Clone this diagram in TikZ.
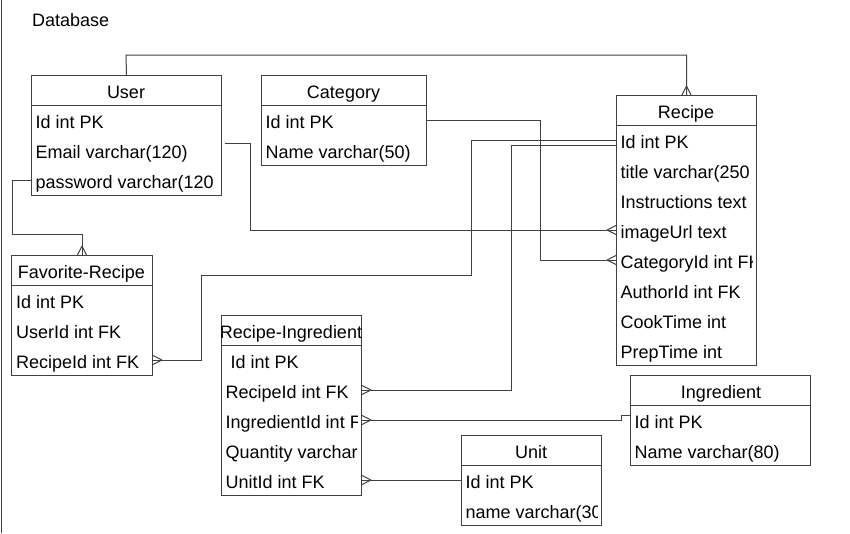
\documentclass[tikz,border=0pt]{standalone}
\usepackage{fontspec}
\setmainfont{Liberation Sans}
\usetikzlibrary{calc,decorations.markings}

\begin{document}
\begin{tikzpicture}[x=1pt,y=-1pt,
    font=\fontsize{18}{21}\selectfont,
    line/.style={draw=black!75,line width=1pt},
    tbl/.style={line,rectangle,anchor=north west,inner sep=0pt},
    hdr/.style={inner sep=0pt,text height=18pt,text depth=2pt},
    row/.style={anchor=west,inner sep=0pt,text height=18pt,text depth=2pt},
    many end/.style={postaction={decorate,decoration={markings,
        mark=at position 1 with {\draw[line] (-9pt,0pt) -- (0pt,4.5pt) (-9pt,0pt) -- (0pt,-4.5pt);}}}}]
\useasboundingbox (0,0) rectangle (850,533);
\draw[line] (1,0) -- (1,533);
\node[row] (db) at (32,18) {Database};

% tables
\node[tbl,minimum width=190pt,minimum height=120pt] (user) at (31,75) {};
\node[tbl,minimum width=165pt,minimum height=90pt] (category) at (261,75) {};
\node[tbl,minimum width=140pt,minimum height=270pt] (recipe) at (616,95) {};
\node[tbl,minimum width=141pt,minimum height=120pt] (fav) at (11,255) {};
\node[tbl,minimum width=140pt,minimum height=180pt] (ringr) at (221,315) {};
\node[tbl,minimum width=180pt,minimum height=90pt] (ingr) at (630,375) {};
\node[tbl,minimum width=140pt,minimum height=90pt] (unit) at (461,435) {};
\foreach \t in {user,category,recipe,fav,ringr,ingr,unit}
    \draw[line] ([yshift=-30pt]\t.north west) -- ([yshift=-30pt]\t.north east);

\node[hdr] (user-h) at (126,90) {User};
\node[hdr] (category-h) at (343.5,90) {Category};
\node[hdr] (recipe-h) at (686,110) {Recipe};
\node[hdr] (fav-h) at (81.5,270) {Favorite-Recipe};
\node[hdr] (ringr-h) at (291,330) {Recipe-Ingredient};
\node[hdr] (ingr-h) at (721,390) {Ingredient};
\node[hdr] (unit-h) at (531,450) {Unit};

% rows
\begin{scope}
    \clip (user.north west) rectangle ([xshift=-4.5pt]user.south east);
    \node[row] (user-id) at (35.5,120) {Id int PK};
    \node[row] (user-email) at (35.5,150) {Email varchar(120)};
    \node[row] (user-pw) at (35.5,180) {password varchar(120};
\end{scope}
\begin{scope}
    \clip (category.north west) rectangle ([xshift=-4.5pt]category.south east);
    \node[row] (category-id) at (265.5,120) {Id int PK};
    \node[row] (category-name) at (265.5,150) {Name varchar(50)};
\end{scope}
\begin{scope}
    \clip (recipe.north west) rectangle ([xshift=-4.5pt]recipe.south east);
    \node[row] (recipe-id) at (620.5,140) {Id int PK};
    \node[row] (recipe-title) at (620.5,170) {title varchar(250};
    \node[row] (recipe-instr) at (620.5,200) {Instructions text};
    \node[row] (recipe-img) at (620.5,230) {imageUrl text};
    \node[row] (recipe-cat) at (620.5,260) {CategoryId int FK};
    \node[row] (recipe-author) at (620.5,290) {AuthorId int FK};
    \node[row] (recipe-cook) at (620.5,320) {CookTime int};
    \node[row] (recipe-prep) at (620.5,350) {PrepTime int};
\end{scope}
\begin{scope}
    \clip (fav.north west) rectangle ([xshift=-4.5pt]fav.south east);
    \node[row] (fav-id) at (16,300) {Id int PK};
    \node[row] (fav-uid) at (16,330) {UserId int FK};
    \node[row] (fav-rid) at (16,360) {RecipeId int FK};
\end{scope}
\begin{scope}
    \clip (ringr.north west) rectangle ([xshift=-4.5pt]ringr.south east);
    \node[row] (ringr-id) at (230.5,360) {Id int PK};
    \node[row] (ringr-rid) at (225.5,390) {RecipeId int FK};
    \node[row] (ringr-iid) at (225.5,420) {IngredientId int F};
    \node[row] (ringr-qty) at (225.5,450) {Quantity varchar};
    \node[row] (ringr-uid) at (225.5,480) {UnitId int FK};
\end{scope}
\begin{scope}
    \clip (ingr.north west) rectangle ([xshift=-4.5pt]ingr.south east);
    \node[row] (ingr-id) at (634.5,420) {Id int PK};
    \node[row] (ingr-name) at (634.5,450) {Name varchar(80)};
\end{scope}
\begin{scope}
    \clip (unit.north west) rectangle ([xshift=-4.5pt]unit.south east);
    \node[row] (unit-id) at (465.5,480) {Id int PK};
    \node[row] (unit-name) at (465.5,510) {name varchar(30};
\end{scope}

% relations
\draw[line,many end] (user.north) -- (126,55) -| (recipe.north);
\draw[line,many end] ($(user-email -| user.east)+(3,-7)$) -| (250,230) -- (recipe-img -| recipe.west);
\draw[line,many end] (user-pw -| user.west) -| (12,234) -| (fav.north);
\draw[line,many end] (category-id -| category.east) -| (540,260) -- (recipe-cat -| recipe.west);
\draw[line,many end] (recipe-id -| recipe.west) -| (471,275) -| (201,360) -- (fav-rid -| fav.east);
\draw[line,many end] ($(recipe-id -| recipe.west)+(0,5)$) -| (511,390) -- (ringr-rid -| ringr.east);
\draw[line,many end] ($(ingr-id -| ingr.west)+(0,-5)$) -- ++(-9,0) |- (ringr-iid -| ringr.east);
\draw[line,many end] (unit-id -| unit.west) -- (ringr-uid -| ringr.east);
\end{tikzpicture}
\end{document}
